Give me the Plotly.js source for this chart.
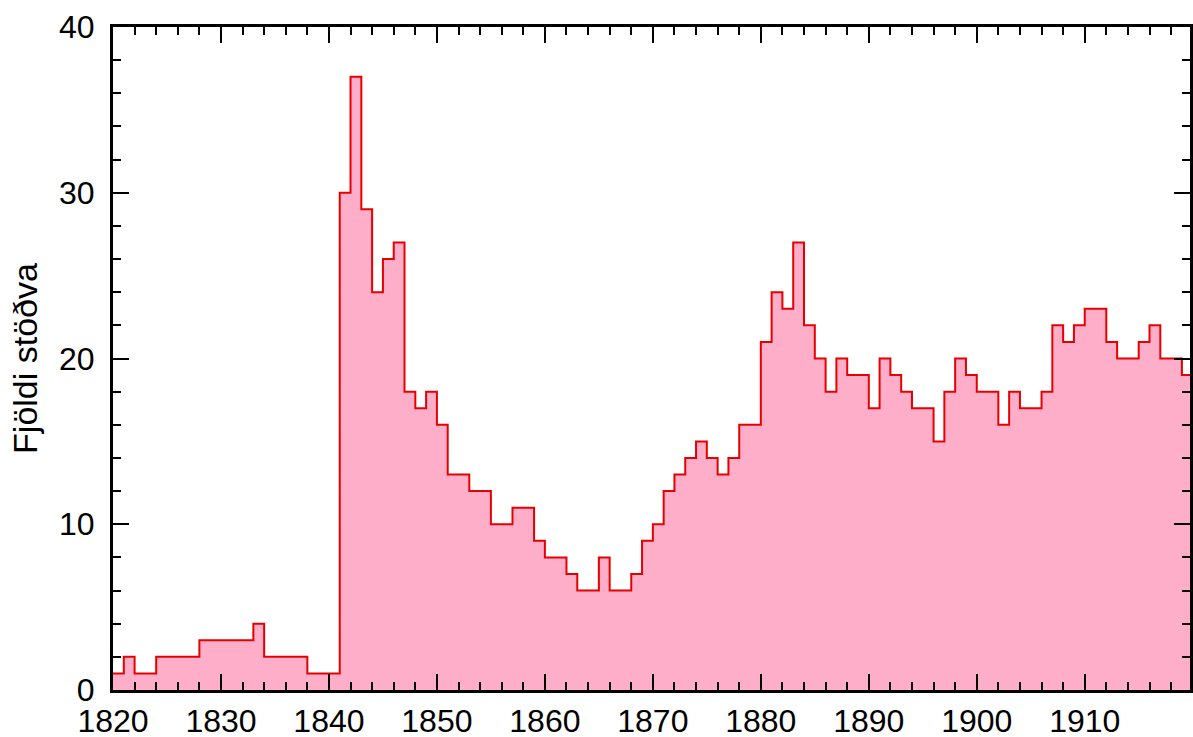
<!DOCTYPE html>
<html>
<head>
<meta charset="utf-8">
<script src="https://cdn.plot.ly/plotly-3.0.1.min.js"></script>
<style>html,body{margin:0;padding:0;background:#fff}#chart{width:1193px;height:737px}</style>
</head>
<body>
<div id="chart"></div>
<script>
// Year (start of each one-year bin)
const years = [];
for (let y = 1820; y <= 1919; y++) years.push(y);
// Number of stations per year
const stations = [
  1, 2, 1, 1, 2, 2, 2, 2, 3, 3,      // 1820-1829
  3, 3, 3, 4, 2, 2, 2, 2, 1, 1,      // 1830-1839
  1, 30, 37, 29, 24, 26, 27, 18, 17, 18, // 1840-1849
  16, 13, 13, 12, 12, 10, 10, 11, 11, 9, // 1850-1859
  8, 8, 7, 6, 6, 8, 6, 6, 7, 9,      // 1860-1869
  10, 12, 13, 14, 15, 14, 13, 14, 16, 16, // 1870-1879
  21, 24, 23, 27, 22, 20, 18, 20, 19, 19, // 1880-1889
  17, 20, 19, 18, 17, 17, 15, 18, 20, 19, // 1890-1899
  18, 18, 16, 18, 17, 17, 18, 22, 21, 22, // 1900-1909
  23, 23, 21, 20, 20, 21, 22, 20, 20, 19  // 1910-1919
];
const xTickVals = [1820, 1830, 1840, 1850, 1860, 1870, 1880, 1890, 1900, 1910];
const yTickVals = [0, 10, 20, 30, 40];
const yTitle = 'Fjöldi stöðva';

// step outline: close the last bin at its end year
const xs = years.concat([years[years.length - 1] + 1]);
const ys = stations.concat([stations[stations.length - 1]]);

const trace = {
  x: xs, y: ys,
  type: 'scatter', mode: 'lines',
  line: {shape: 'hv', color: '#e60000', width: 2},
  fill: 'tozeroy', fillcolor: '#ffaec9',
  hoverinfo: 'x+y'
};

const font = {family: 'Liberation Sans, Arial, sans-serif', size: 32, color: '#000'};
const titleFont = {family: 'Liberation Sans, Arial, sans-serif', size: 34, color: '#000'};
const layout = {
  width: 1193, height: 737,
  margin: {l: 113, r: 3, t: 27, b: 47},
  paper_bgcolor: '#fff', plot_bgcolor: '#fff',
  showlegend: false,
  font: font,
  xaxis: {
    range: [1820, 1919.75], tickvals: xTickVals, ticktext: xTickVals.map(String),
    ticks: 'inside', ticklen: 16, tickwidth: 2, tickcolor: '#000',
    minor: {dtick: 2, tick0: 1820, ticks: 'inside', ticklen: 8, tickwidth: 2, tickcolor: '#000'},
    showline: true, linewidth: 3, linecolor: '#000', mirror: 'ticks',
    showgrid: false, zeroline: false, tickfont: font, ticklabelstandoff: 1,
    automargin: false
  },
  yaxis: {
    range: [0, 40], tickvals: yTickVals, ticktext: yTickVals.map(String),
    ticks: 'inside', ticklen: 16, tickwidth: 2, tickcolor: '#000',
    minor: {dtick: 2, tick0: 0, ticks: 'inside', ticklen: 8, tickwidth: 2, tickcolor: '#000'},
    showline: true, linewidth: 3, linecolor: '#000', mirror: 'ticks',
    showgrid: false, zeroline: false, tickfont: font, ticklabelstandoff: 9,
    automargin: false,
    title: {text: yTitle, font: titleFont, standoff: 12}
  }
};
Plotly.newPlot('chart', [trace], layout, {displayModeBar: false, staticPlot: true});
</script>
</body>
</html>
